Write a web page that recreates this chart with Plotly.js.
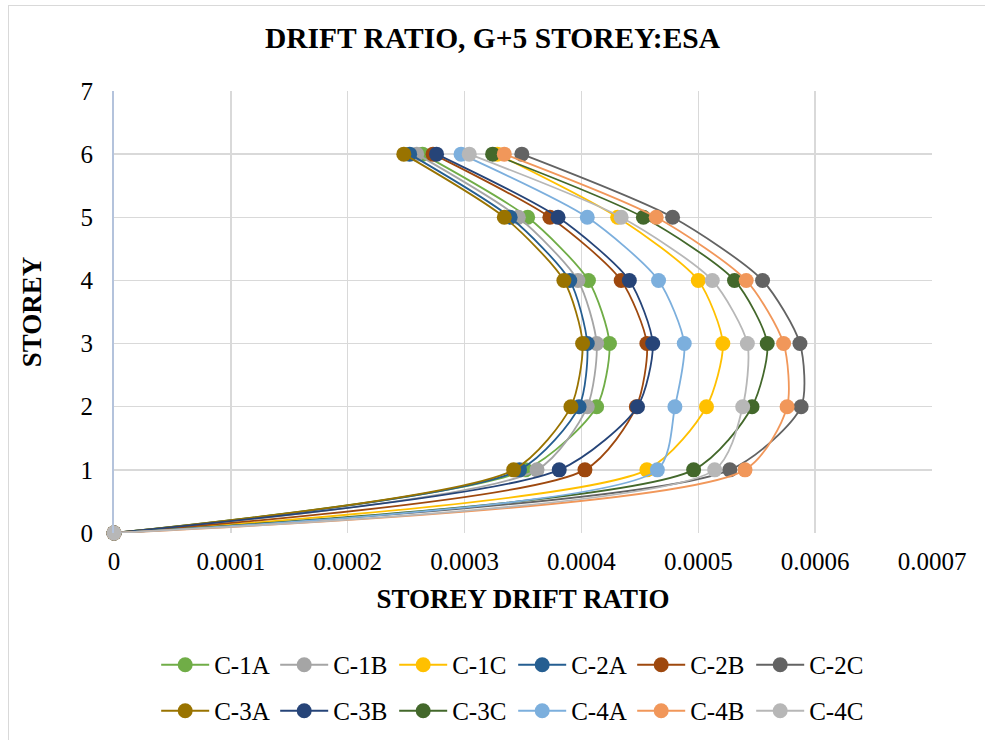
<!DOCTYPE html>
<html>
<head>
<meta charset="utf-8">
<script src="https://cdn.plot.ly/plotly-3.0.1.min.js"></script>
<style>
body{margin:0;padding:0;background:#fff;overflow:hidden;}
#chart{width:985px;height:740px;position:absolute;left:0;top:0;}
#frame{position:absolute;left:8px;top:5px;width:990px;height:760px;border:1px solid #d9d9d9;pointer-events:none;}
</style>
</head>
<body>
<div id="chart"></div>
<div id="frame"></div>
<script>
const storeys = [0, 1, 2, 3, 4, 5, 6];
const names = ["C-1A","C-1B","C-1C","C-2A","C-2B","C-2C","C-3A","C-3B","C-3C","C-4A","C-4B","C-4C"];
const C1A = [0, 0.000352, 0.000413, 0.000424, 0.000406, 0.000354, 0.000264];
const C1B = [0, 0.000362, 0.000405, 0.000413, 0.000397, 0.000346, 0.000259];
const C1C = [0, 0.000456, 0.000507, 0.000521, 0.000500, 0.000431, 0.000328];
const C2A = [0, 0.000347, 0.000398, 0.000405, 0.000390, 0.000339, 0.000253];
const C2B = [0, 0.000403, 0.000447, 0.000456, 0.000434, 0.000373, 0.000273];
const C2C = [0, 0.000527, 0.000588, 0.000587, 0.000555, 0.000478, 0.000349];
const C3A = [0, 0.000342, 0.000391, 0.000401, 0.000385, 0.000334, 0.000248];
const C3B = [0, 0.000381, 0.000448, 0.000461, 0.000441, 0.000380, 0.000276];
const C3C = [0, 0.000496, 0.000546, 0.000559, 0.000531, 0.000453, 0.000324];
const C4A = [0, 0.000465, 0.000480, 0.000488, 0.000466, 0.000405, 0.000297];
const C4B = [0, 0.000540, 0.000576, 0.000573, 0.000541, 0.000464, 0.000334];
const C4C = [0, 0.000514, 0.000538, 0.000542, 0.000512, 0.000434, 0.000304];
const xTicks = [0, 0.0001, 0.0002, 0.0003, 0.0004, 0.0005, 0.0006, 0.0007];
const xTickText = ["0","0.0001","0.0002","0.0003","0.0004","0.0005","0.0006","0.0007"];
const yTicks = [0,1,2,3,4,5,6,7];

const series = [C1A,C1B,C1C,C2A,C2B,C2C,C3A,C3B,C3C,C4A,C4B,C4C];
const colors = ["#70AD47","#A5A5A5","#FFC000","#255E91","#9E480E","#636363",
                "#997300","#264478","#43682B","#7CAFDD","#F1975A","#B7B7B7"];

const serif = '"Liberation Serif"';
const traces = series.map((s,i)=>({
  type:'scatter', mode:'lines+markers', name:names[i],
  x:s, y:storeys, cliponaxis:false,
  line:{color:colors[i], width:1.8, shape:'spline', smoothing:0.7},
  marker:{color:colors[i], size:15, line:{width:0}},
  legend: i<6 ? 'legend' : 'legend2'
}));
const legFont = {family:serif,size:25,color:'#000'};
const layout = {
  width:985, height:740,
  margin:{l:114, r:53, t:91, b:207, autoexpand:false},
  paper_bgcolor:'#fff', plot_bgcolor:'#fff',
  font:{family:serif, size:25, color:'#000'},
  title:{text:'<b>DRIFT RATIO, G+5 STOREY:ESA</b>', font:{family:serif, size:29.5, color:'#000'}, x:0.5, xanchor:'center', y:0.949, yanchor:'middle'},
  xaxis:{range:[0,0.0007], tickvals:xTicks, ticktext:xTickText, showgrid:true, gridcolor:'#d9d9d9', gridwidth:1.3, automargin:false,
         zeroline:false, showline:false, ticks:'', ticklabelstandoff:11, tickfont:{family:serif,size:25,color:'#000'},
         title:{text:'<b>STOREY DRIFT RATIO</b>', font:{family:serif,size:27,color:'#000'}, standoff:15}},
  yaxis:{range:[0,7], tickvals:yTicks, showgrid:true, gridcolor:'#d9d9d9', gridwidth:1.3, automargin:false,
         zeroline:false, showline:true, linecolor:'#b4c3dc', linewidth:2, ticks:'', ticklabelstandoff:14,
         tickfont:{family:serif,size:25,color:'#000'},
         title:{text:'<b>STOREY</b>', font:{family:serif,size:27,color:'#000'}, standoff:31}},
  legend:{orientation:'h', x:0.488, xanchor:'center', y:-0.2986, yanchor:'middle', font:legFont, itemwidth:48, tracegroupgap:0, entrywidth:56},
  legend2:{orientation:'h', x:0.488, xanchor:'center', y:-0.4027, yanchor:'middle', font:legFont, itemwidth:48, tracegroupgap:0, entrywidth:56},
  showlegend:true
};
Plotly.newPlot('chart', traces, layout, {displayModeBar:false, staticPlot:true});
</script>
</body>
</html>
